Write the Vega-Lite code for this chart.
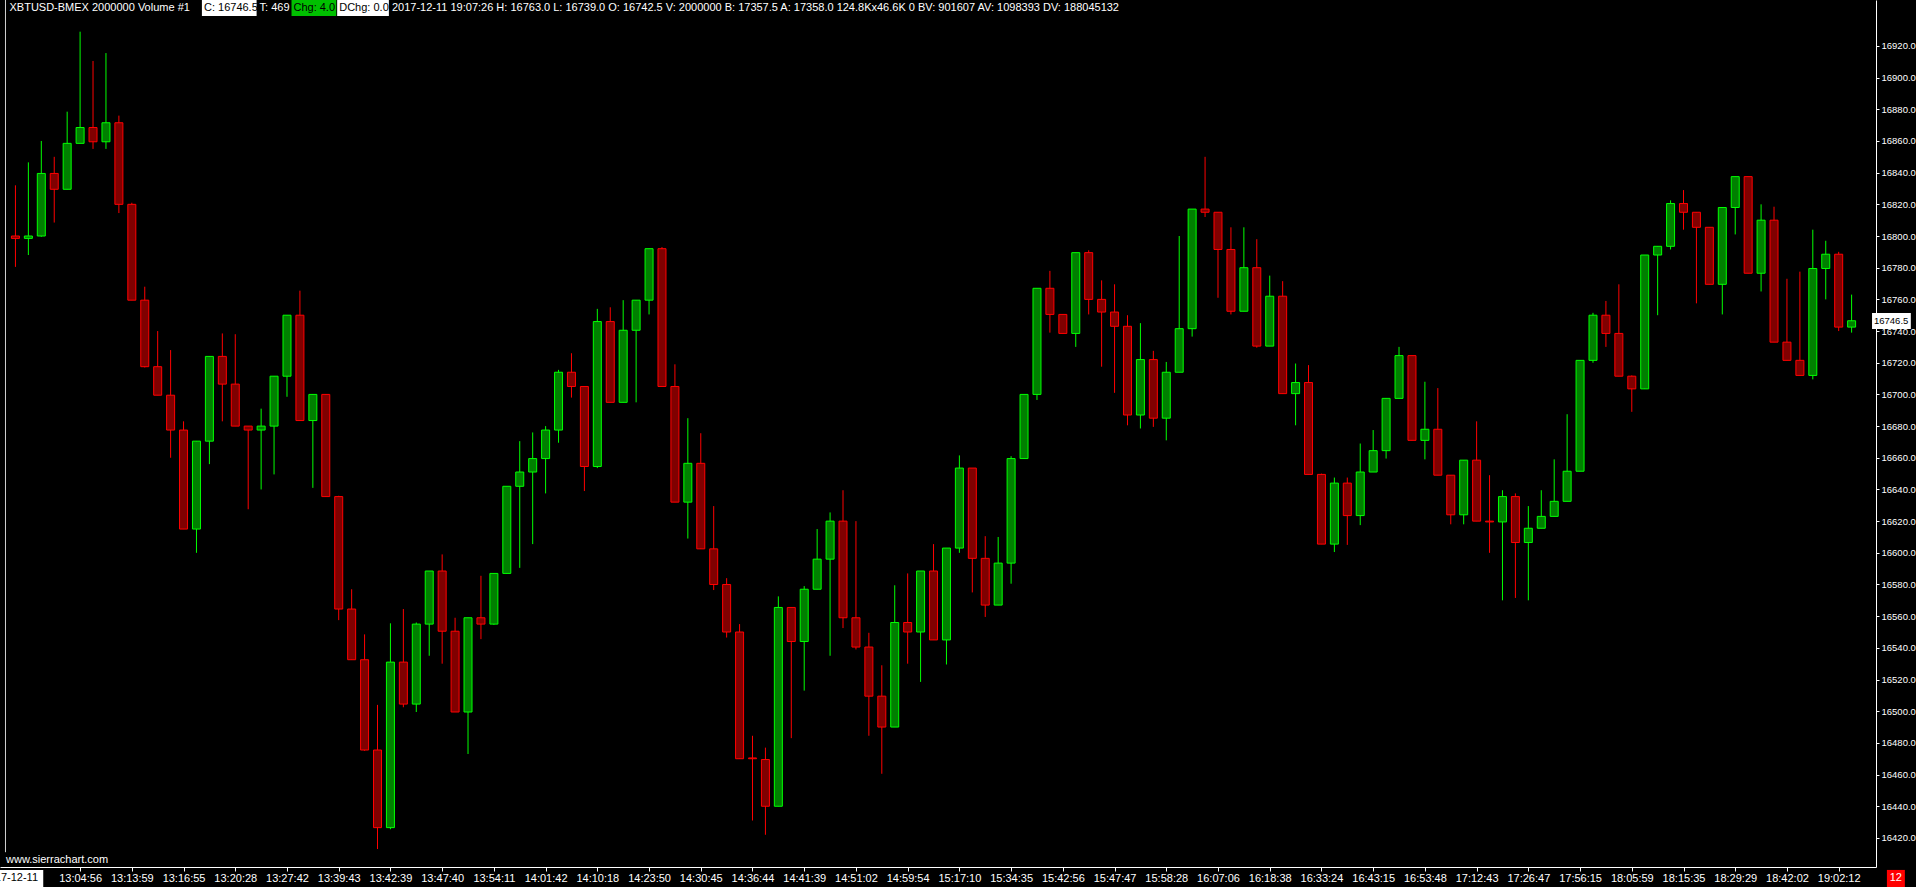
{
  "$schema": "https://vega.github.io/schema/vega-lite/v6.json",
  "width": 1876,
  "height": 867,
  "autosize": {"type": "none"},
  "padding": {"left": 0, "top": 0, "right": 40, "bottom": 20},
  "background": "#000000",
  "config": {
    "view": {"stroke": null},
    "axis": {"grid": false, "title": null, "domainColor": "#ffffff", "domainWidth": 1, "tickColor": "#ffffff", "tickWidth": 1,
      "labelColor": "#ffffff", "labelFont": "Liberation Sans", "labelOverlap": false, "labelFlush": false, "labelBound": false, "labelSeparation": 0},
    "axisX": {"tickSize": 4, "labelPadding": 1, "labelFontSize": 11, "labelAngle": 0},
    "axisY": {"tickSize": 3, "labelPadding": 2, "labelFontSize": 9.5}
  },
  "datasets": {
    "bars": [
      {"i":0,"o":16800,"h":16832,"l":16780.5,"c":16798.5},
      {"i":1,"o":16798.5,"h":16846.5,"l":16788,"c":16800},
      {"i":2,"o":16800,"h":16860,"l":16799.5,"c":16839.5},
      {"i":3,"o":16839.5,"h":16850,"l":16808.5,"c":16829.5},
      {"i":4,"o":16829.5,"h":16878.5,"l":16829.5,"c":16858.5},
      {"i":5,"o":16858.5,"h":16929,"l":16858.5,"c":16868.5},
      {"i":6,"o":16868.5,"h":16910.5,"l":16855,"c":16859.5},
      {"i":7,"o":16859.5,"h":16915.5,"l":16855,"c":16871.5},
      {"i":8,"o":16871.5,"h":16876,"l":16814.5,"c":16820},
      {"i":9,"o":16820,"h":16821,"l":16759.5,"c":16759.5},
      {"i":10,"o":16759.5,"h":16768,"l":16717,"c":16717.5},
      {"i":11,"o":16717.5,"h":16740,"l":16699.5,"c":16699.5},
      {"i":12,"o":16699.5,"h":16728,"l":16660,"c":16677.5},
      {"i":13,"o":16677.5,"h":16683,"l":16615,"c":16615},
      {"i":14,"o":16615,"h":16670.5,"l":16600,"c":16670.5},
      {"i":15,"o":16670.5,"h":16724,"l":16656,"c":16724},
      {"i":16,"o":16724,"h":16738.5,"l":16683,"c":16706.5},
      {"i":17,"o":16706.5,"h":16738,"l":16680,"c":16680},
      {"i":18,"o":16680,"h":16680,"l":16627.5,"c":16677.5},
      {"i":19,"o":16677.5,"h":16691,"l":16640,"c":16680},
      {"i":20,"o":16680,"h":16711.5,"l":16649.5,"c":16711.5},
      {"i":21,"o":16711.5,"h":16750,"l":16698.5,"c":16750},
      {"i":22,"o":16750,"h":16765.5,"l":16683.5,"c":16683.5},
      {"i":23,"o":16683.5,"h":16700,"l":16641,"c":16700},
      {"i":24,"o":16700,"h":16700,"l":16635.5,"c":16635.5},
      {"i":25,"o":16635.5,"h":16636,"l":16557.5,"c":16564.5},
      {"i":26,"o":16564.5,"h":16577,"l":16532.5,"c":16532.5},
      {"i":27,"o":16532.5,"h":16548.5,"l":16475,"c":16475.5},
      {"i":28,"o":16475.5,"h":16504,"l":16413,"c":16426.5},
      {"i":29,"o":16426.5,"h":16555.5,"l":16425.5,"c":16531},
      {"i":30,"o":16531,"h":16564.5,"l":16502.5,"c":16504.5},
      {"i":31,"o":16504.5,"h":16556,"l":16499.5,"c":16555},
      {"i":32,"o":16555,"h":16588.5,"l":16535,"c":16588.5},
      {"i":33,"o":16588.5,"h":16599,"l":16530,"c":16550.5},
      {"i":34,"o":16550.5,"h":16559,"l":16499.5,"c":16499.5},
      {"i":35,"o":16499.5,"h":16559,"l":16473,"c":16559},
      {"i":36,"o":16559,"h":16585.5,"l":16545.5,"c":16555},
      {"i":37,"o":16555,"h":16587,"l":16554.5,"c":16587},
      {"i":38,"o":16587,"h":16642,"l":16587,"c":16642},
      {"i":39,"o":16642,"h":16670.5,"l":16590.5,"c":16651},
      {"i":40,"o":16651,"h":16676,"l":16605.5,"c":16659.5},
      {"i":41,"o":16659.5,"h":16680,"l":16637.5,"c":16677.5},
      {"i":42,"o":16677.5,"h":16715.5,"l":16669.5,"c":16714},
      {"i":43,"o":16714,"h":16726,"l":16698,"c":16705},
      {"i":44,"o":16705,"h":16705,"l":16639,"c":16654.5},
      {"i":45,"o":16654.5,"h":16754,"l":16653.5,"c":16746},
      {"i":46,"o":16746,"h":16755,"l":16695,"c":16695},
      {"i":47,"o":16695,"h":16759.5,"l":16695,"c":16740.5},
      {"i":48,"o":16740.5,"h":16759.5,"l":16695,"c":16759.5},
      {"i":49,"o":16759.5,"h":16792,"l":16750.5,"c":16792},
      {"i":50,"o":16792,"h":16793,"l":16705,"c":16705},
      {"i":51,"o":16705,"h":16719,"l":16632,"c":16632},
      {"i":52,"o":16632,"h":16685,"l":16609,"c":16656.5},
      {"i":53,"o":16656.5,"h":16675.5,"l":16602.5,"c":16602.5},
      {"i":54,"o":16602.5,"h":16629.5,"l":16576.5,"c":16580},
      {"i":55,"o":16580,"h":16584,"l":16546.5,"c":16550},
      {"i":56,"o":16550,"h":16555,"l":16470,"c":16470},
      {"i":57,"o":16470.5,"h":16484.5,"l":16431,"c":16470},
      {"i":58,"o":16469.5,"h":16477,"l":16422,"c":16440},
      {"i":59,"o":16440,"h":16572.5,"l":16440,"c":16565.5},
      {"i":60,"o":16565.5,"h":16565.5,"l":16483,"c":16544},
      {"i":61,"o":16544,"h":16579,"l":16513,"c":16577},
      {"i":62,"o":16577,"h":16615,"l":16577,"c":16596},
      {"i":63,"o":16596,"h":16625.5,"l":16535,"c":16620},
      {"i":64,"o":16620,"h":16639.5,"l":16552.5,"c":16559},
      {"i":65,"o":16559,"h":16620,"l":16539,"c":16540.5},
      {"i":66,"o":16540.5,"h":16549.5,"l":16484.5,"c":16509.5},
      {"i":67,"o":16509.5,"h":16529,"l":16460.5,"c":16490},
      {"i":68,"o":16490,"h":16579.5,"l":16490,"c":16556},
      {"i":69,"o":16556,"h":16587,"l":16530,"c":16550},
      {"i":70,"o":16550,"h":16588.5,"l":16518.5,"c":16588.5},
      {"i":71,"o":16588.5,"h":16605.5,"l":16545,"c":16545},
      {"i":72,"o":16545,"h":16603,"l":16529.5,"c":16603},
      {"i":73,"o":16603,"h":16661.5,"l":16600,"c":16653.5},
      {"i":74,"o":16653.5,"h":16653.5,"l":16575,"c":16596.5},
      {"i":75,"o":16596.5,"h":16610.5,"l":16559.5,"c":16567},
      {"i":76,"o":16567,"h":16610,"l":16567,"c":16593.5},
      {"i":77,"o":16593.5,"h":16661,"l":16580.5,"c":16659.5},
      {"i":78,"o":16659.5,"h":16700,"l":16659.5,"c":16700},
      {"i":79,"o":16700,"h":16767,"l":16696.5,"c":16767},
      {"i":80,"o":16767,"h":16778,"l":16739,"c":16750.5},
      {"i":81,"o":16750.5,"h":16750.5,"l":16738.5,"c":16738.5},
      {"i":82,"o":16738.5,"h":16789.5,"l":16730,"c":16789.5},
      {"i":83,"o":16789.5,"h":16791,"l":16750.5,"c":16760},
      {"i":84,"o":16760,"h":16772,"l":16717.5,"c":16752},
      {"i":85,"o":16752,"h":16769.5,"l":16701,"c":16743},
      {"i":86,"o":16743,"h":16750,"l":16680.5,"c":16687},
      {"i":87,"o":16687,"h":16745,"l":16678.5,"c":16722},
      {"i":88,"o":16722,"h":16727.5,"l":16679.5,"c":16685},
      {"i":89,"o":16685,"h":16720.5,"l":16671,"c":16714},
      {"i":90,"o":16714,"h":16800,"l":16714,"c":16741.5},
      {"i":91,"o":16741.5,"h":16817,"l":16736.5,"c":16817},
      {"i":92,"o":16817,"h":16850,"l":16812,"c":16815},
      {"i":93,"o":16815,"h":16815,"l":16761,"c":16791.5},
      {"i":94,"o":16791.5,"h":16805.5,"l":16750.5,"c":16752.5},
      {"i":95,"o":16752.5,"h":16805.5,"l":16752.5,"c":16780},
      {"i":96,"o":16780,"h":16798,"l":16729.5,"c":16730.5},
      {"i":97,"o":16730.5,"h":16775,"l":16730.5,"c":16762},
      {"i":98,"o":16762,"h":16771.5,"l":16700.5,"c":16700.5},
      {"i":99,"o":16700.5,"h":16719.5,"l":16680.5,"c":16707.5},
      {"i":100,"o":16707.5,"h":16718.5,"l":16649.5,"c":16649.5},
      {"i":101,"o":16649.5,"h":16650,"l":16605.5,"c":16605.5},
      {"i":102,"o":16605.5,"h":16647.5,"l":16600.5,"c":16644},
      {"i":103,"o":16644,"h":16647.5,"l":16605,"c":16623.5},
      {"i":104,"o":16623.5,"h":16669,"l":16617.5,"c":16651},
      {"i":105,"o":16651,"h":16677.5,"l":16651,"c":16664.5},
      {"i":106,"o":16664.5,"h":16697.5,"l":16659.5,"c":16697.5},
      {"i":107,"o":16697.5,"h":16730,"l":16697.5,"c":16724.5},
      {"i":108,"o":16724.5,"h":16724.5,"l":16671,"c":16671},
      {"i":109,"o":16671,"h":16708,"l":16659,"c":16678},
      {"i":110,"o":16678,"h":16704,"l":16649,"c":16649},
      {"i":111,"o":16649,"h":16649,"l":16618,"c":16624},
      {"i":112,"o":16624,"h":16658.5,"l":16618,"c":16658.5},
      {"i":113,"o":16658.5,"h":16683,"l":16620,"c":16620},
      {"i":114,"o":16620,"h":16649,"l":16600,"c":16619.5},
      {"i":115,"o":16619.5,"h":16639.5,"l":16570,"c":16635.5},
      {"i":116,"o":16635.5,"h":16637.5,"l":16571.5,"c":16606.5},
      {"i":117,"o":16606.5,"h":16629.5,"l":16570,"c":16615.5},
      {"i":118,"o":16615.5,"h":16639.5,"l":16615.5,"c":16623},
      {"i":119,"o":16623,"h":16659,"l":16623,"c":16632.5},
      {"i":120,"o":16632.5,"h":16687.5,"l":16632.5,"c":16651.5},
      {"i":121,"o":16651.5,"h":16721.5,"l":16651.5,"c":16721.5},
      {"i":122,"o":16721.5,"h":16751.5,"l":16720,"c":16750},
      {"i":123,"o":16750,"h":16759,"l":16730,"c":16738.5},
      {"i":124,"o":16738.5,"h":16769.5,"l":16711.5,"c":16711.5},
      {"i":125,"o":16711.5,"h":16712,"l":16689,"c":16703.5},
      {"i":126,"o":16703.5,"h":16788,"l":16703.5,"c":16788},
      {"i":127,"o":16788,"h":16793.5,"l":16750,"c":16793.5},
      {"i":128,"o":16793.5,"h":16822.5,"l":16791.5,"c":16820.5},
      {"i":129,"o":16820.5,"h":16829,"l":16804,"c":16815},
      {"i":130,"o":16815,"h":16815,"l":16757.5,"c":16805.5},
      {"i":131,"o":16805.5,"h":16805.5,"l":16769.5,"c":16769.5},
      {"i":132,"o":16769.5,"h":16818,"l":16750.5,"c":16818},
      {"i":133,"o":16818,"h":16837.5,"l":16801,"c":16837.5},
      {"i":134,"o":16837.5,"h":16837.5,"l":16776.5,"c":16776.5},
      {"i":135,"o":16776.5,"h":16820,"l":16765,"c":16810},
      {"i":136,"o":16810,"h":16818.5,"l":16733,"c":16733},
      {"i":137,"o":16733,"h":16773,"l":16721.5,"c":16721.5},
      {"i":138,"o":16721.5,"h":16777.5,"l":16712,"c":16712},
      {"i":139,"o":16712,"h":16804,"l":16709.5,"c":16779.5},
      {"i":140,"o":16779.5,"h":16797,"l":16760,"c":16788.5},
      {"i":141,"o":16788.5,"h":16790,"l":16740,"c":16742.5},
      {"i":142,"o":16742.5,"h":16763,"l":16739,"c":16746.5}
    ]
  },
  "layer": [
    {
      "data": {"name": "bars"},
      "mark": {"type": "rule", "strokeWidth": 1},
      "encoding": {
        "x": {"field": "i", "type": "quantitative", "title": null,
          "scale": {"domain": [-0.8077, 143.5], "nice": false, "zero": false},
          "axis": {"orient": "bottom", "labelOverlap": false, "labelFlush": false, "labelBound": false,
            "values": [5,9,13,17,21,25,29,33,37,41,45,49,53,57,61,65,69,73,77,81,85,89,93,97,101,105,109,113,117,121,125,129,133,137,141],
            "labelExpr": "['13:04:56','13:13:59','13:16:55','13:20:28','13:27:42','13:39:43','13:42:39','13:47:40','13:54:11','14:01:42','14:10:18','14:23:50','14:30:45','14:36:44','14:41:39','14:51:02','14:59:54','15:17:10','15:34:35','15:42:56','15:47:47','15:58:28','16:07:06','16:18:38','16:33:24','16:43:15','16:53:48','17:12:43','17:26:47','17:56:15','18:05:59','18:15:35','18:29:29','18:42:02','19:02:12'][round((datum.value-5)/4)]"}},
        "y": {"field": "l", "type": "quantitative", "title": null,
          "scale": {"domain": [16401.65, 16949], "nice": false, "zero": false},
          "axis": {"orient": "right", "labelOverlap": false, "labelFlush": false, "labelBound": false, "tickCount": 30, "tickMinStep": 20,
            "values": [16420,16440,16460,16480,16500,16520,16540,16560,16580,16600,16620,16640,16660,16680,16700,16720,16740,16760,16780,16800,16820,16840,16860,16880,16900,16920],
            "format": ".1f"}},
        "y2": {"field": "h"},
        "stroke": {"condition": {"test": "datum.c >= datum.o", "value": "#00ff00"}, "value": "#ff0000"}
      }
    },
    {
      "data": {"name": "bars"},
      "mark": {"type": "bar", "size": 8, "strokeWidth": 1},
      "encoding": {
        "x": {"field": "i", "type": "quantitative", "title": null},
        "y": {"field": "o", "type": "quantitative", "title": null, "axis": {"orient": "right", "labelOverlap": false, "tickCount": 30, "format": ".1f"}},
        "y2": {"field": "c"},
        "fill": {"condition": {"test": "datum.c >= datum.o", "value": "#008000"}, "value": "#800000"},
        "stroke": {"condition": {"test": "datum.c >= datum.o", "value": "#00ff00"}, "value": "#ff0000"}
      }
    },
    {
      "data": {"values": [{"i": -0.77, "v": 16949, "v2": 16411}]},
      "mark": {"type": "rule", "stroke": "#d0d0d0", "strokeWidth": 1},
      "encoding": {
        "x": {"field": "i", "type": "quantitative", "title": null},
        "y": {"field": "v", "type": "quantitative", "title": null, "axis": {"orient": "right", "labelOverlap": false, "tickCount": 30, "format": ".1f"}},
        "y2": {"field": "v2"}
      }
    },
    {
      "data": {"values": [
        {"i": 14.42, "i2": 18.65, "v": 16949, "v2": 16938.9},
        {"i": 24.88, "i2": 28.88, "v": 16949, "v2": 16938.9},
        {"i": -2.19, "i2": 2.15, "v": 16399.8, "v2": 16389.0},
        {"i": 143.58, "i2": 146.58, "v": 16751.4, "v2": 16741.3}
      ]},
      "mark": {"type": "rect", "fill": "#ffffff"},
      "encoding": {
        "x": {"field": "i", "type": "quantitative", "title": null},
        "x2": {"field": "i2"},
        "y": {"field": "v", "type": "quantitative", "title": null, "axis": {"orient": "right", "labelOverlap": false, "tickCount": 30, "format": ".1f"}},
        "y2": {"field": "v2"}
      }
    },
    {
      "data": {"values": [{"i": 21.35, "i2": 24.81, "v": 16949, "v2": 16938.9}]},
      "mark": {"type": "rect", "fill": "#00c000"},
      "encoding": {
        "x": {"field": "i", "type": "quantitative", "title": null},
        "x2": {"field": "i2"},
        "y": {"field": "v", "type": "quantitative", "title": null, "axis": {"orient": "right", "labelOverlap": false, "tickCount": 30, "format": ".1f"}},
        "y2": {"field": "v2"}
      }
    },
    {
      "data": {"values": [{"i": 144.73, "i2": 146.12, "v": 16399.8, "v2": 16389.0}]},
      "mark": {"type": "rect", "fill": "#ff0000"},
      "encoding": {
        "x": {"field": "i", "type": "quantitative", "title": null},
        "x2": {"field": "i2"},
        "y": {"field": "v", "type": "quantitative", "title": null, "axis": {"orient": "right", "labelOverlap": false, "tickCount": 30, "format": ".1f"}},
        "y2": {"field": "v2"}
      }
    },
    {
      "data": {"values": [
        {"i": -0.46, "v": 16944, "t": "XBTUSD-BMEX  2000000 Volume  #1"},
        {"i": 18.88, "v": 16944, "t": "T: 469"},
        {"i": 29.12, "v": 16944, "t": "2017-12-11 19:07:26 H: 16763.0 L: 16739.0 O: 16742.5 V: 2000000 B: 17357.5 A: 17358.0 124.8Kx46.6K 0 BV: 901607 AV: 1098393 DV: 188045132"},
        {"i": -0.73, "v": 16406.1, "t": "www.sierrachart.com"}
      ]},
      "mark": {"type": "text", "align": "left", "baseline": "middle", "color": "#ffffff", "font": "Liberation Sans", "fontSize": 11},
      "encoding": {
        "x": {"field": "i", "type": "quantitative", "title": null},
        "y": {"field": "v", "type": "quantitative", "title": null, "axis": {"orient": "right", "labelOverlap": false, "tickCount": 30, "format": ".1f"}},
        "text": {"field": "t"}
      }
    },
    {
      "data": {"values": [
        {"i": 14.58, "v": 16944, "t": "C: 16746.5"},
        {"i": 21.5, "v": 16944, "t": "Chg: 4.0"},
        {"i": 25.04, "v": 16944, "t": "DChg: 0.0"}
      ]},
      "mark": {"type": "text", "align": "left", "baseline": "middle", "color": "#000000", "font": "Liberation Sans", "fontSize": 11},
      "encoding": {
        "x": {"field": "i", "type": "quantitative", "title": null},
        "y": {"field": "v", "type": "quantitative", "title": null, "axis": {"orient": "right", "labelOverlap": false, "tickCount": 30, "format": ".1f"}},
        "text": {"field": "t"}
      }
    },
    {
      "data": {"values": [{"i": 143.73, "v": 16746.4, "t": "16746.5"}]},
      "mark": {"type": "text", "align": "left", "baseline": "middle", "color": "#000000", "font": "Liberation Sans", "fontSize": 9.5},
      "encoding": {
        "x": {"field": "i", "type": "quantitative", "title": null},
        "y": {"field": "v", "type": "quantitative", "title": null, "axis": {"orient": "right", "labelOverlap": false, "tickCount": 30, "format": ".1f"}},
        "text": {"field": "t"}
      }
    },
    {
      "data": {"values": [{"i": -0.4, "v": 16394.4, "t": "2017-12-11"}]},
      "mark": {"type": "text", "align": "center", "baseline": "middle", "color": "#000000", "font": "Liberation Sans", "fontSize": 11},
      "encoding": {
        "x": {"field": "i", "type": "quantitative", "title": null},
        "y": {"field": "v", "type": "quantitative", "title": null, "axis": {"orient": "right", "labelOverlap": false, "tickCount": 30, "format": ".1f"}},
        "text": {"field": "t"}
      }
    },
    {
      "data": {"values": [{"i": 145.42, "v": 16394.4, "t": "12"}]},
      "mark": {"type": "text", "align": "center", "baseline": "middle", "color": "#ffffff", "font": "Liberation Sans", "fontSize": 11},
      "encoding": {
        "x": {"field": "i", "type": "quantitative", "title": null},
        "y": {"field": "v", "type": "quantitative", "title": null, "axis": {"orient": "right", "labelOverlap": false, "tickCount": 30, "format": ".1f"}},
        "text": {"field": "t"}
      }
    }
  ]
}
